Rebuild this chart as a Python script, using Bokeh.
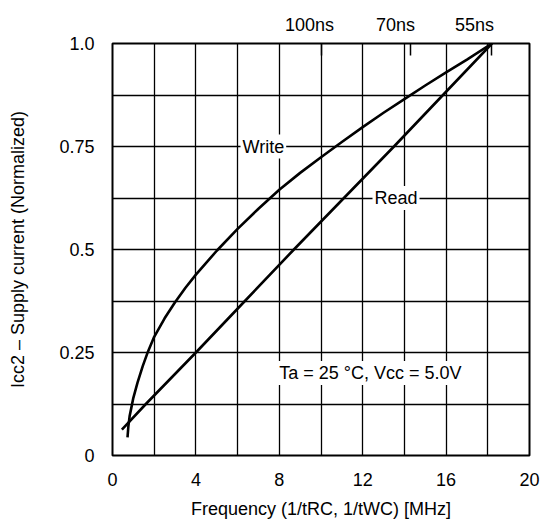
from bokeh.plotting import figure
from bokeh.models import Range1d, FixedTicker, LinearAxis, Label, CustomJSTickFormatter
from bokeh.embed import file_html
from bokeh.resources import INLINE

# ---- data ----
write_freq = [0.72, 0.76, 0.82, 0.9, 1.0, 1.2, 1.45, 1.7, 2.0, 2.5, 3.0, 3.5, 4.0, 5.0, 6.0,
              7.0, 8.0, 9.0, 10.0, 11.0, 12.0, 13.0, 14.0, 15.0, 16.0, 17.0, 18.2]
write_icc = [0.044, 0.07, 0.095, 0.115, 0.14, 0.177, 0.217, 0.252, 0.288, 0.333, 0.372, 0.407,
             0.439, 0.497, 0.55, 0.599, 0.645, 0.686, 0.724, 0.761, 0.797, 0.832, 0.865,
             0.898, 0.93, 0.961, 1.0]
read_freq = [0.45, 1.6, 4.0, 6.35, 8.7, 11.1, 13.5, 15.85, 18.2]
read_icc = [0.063, 0.125, 0.25, 0.375, 0.5, 0.625, 0.75, 0.875, 1.0]

x_ticks = [0, 4, 8, 12, 16, 20]
x_grid = [0, 2, 4, 6, 8, 10, 12, 14, 16, 18, 20]
y_ticks = [0, 0.25, 0.5, 0.75, 1.0]
y_tick_labels = ["0", "0.25", "0.5", "0.75", "1.0"]
y_grid = [0, 0.125, 0.25, 0.375, 0.5, 0.625, 0.75, 0.875, 1.0]
cycle_ns = [100, 70, 55]
cycle_labels = ["100ns", "70ns", "55ns"]
cycle_label_pos = [9.45, 13.57, 17.36]   # where the labels sit (slightly left of ticks)

FONT = "Liberation Sans"

p = figure(width=544, height=524, output_backend="svg", toolbar_location=None,
           x_range=Range1d(0, 20), y_range=Range1d(0, 1),
           min_border_left=112, min_border_right=15, min_border_top=43, min_border_bottom=69)
p.background_fill_color = "white"
p.border_fill_color = "white"
p.outline_line_color = "black"
p.outline_line_width = 2

# grids
p.xgrid.ticker = FixedTicker(ticks=x_grid)
p.ygrid.ticker = FixedTicker(ticks=y_grid)
for g in (p.xgrid, p.ygrid):
    g.grid_line_color = "black"
    g.grid_line_width = 1.3
    g.grid_line_alpha = 1.0

# bottom axis
xa = p.xaxis[0]
xa.ticker = FixedTicker(ticks=x_ticks)
xa.axis_label = "Frequency (1/tRC, 1/tWC) [MHz]"
# left axis
ya = p.yaxis[0]
ya.ticker = FixedTicker(ticks=y_ticks)
ya.major_label_overrides = {t: s for t, s in zip(y_ticks, y_tick_labels)}
ya.axis_label = "Icc2 – Supply current (Normalized)"
for ax in (xa, ya):
    ax.axis_line_color = None
    ax.major_tick_line_color = None
    ax.minor_tick_line_color = None
    ax.major_label_text_font = FONT
    ax.major_label_text_font_size = "18px"
    ax.major_label_text_color = "black"
    ax.axis_label_text_font = FONT
    ax.axis_label_text_font_size = "18px"
    ax.axis_label_text_font_style = "normal"
    ax.axis_label_text_color = "black"
xa.major_label_standoff = 11
xa.axis_label_standoff = 10
ya.major_label_standoff = 12
ya.axis_label_standoff = 28

# top axis: inward tick marks at the cycle-time frequencies
cycle_mhz = [1000.0 / t for t in cycle_ns]
top_ticks = LinearAxis(ticker=FixedTicker(ticks=cycle_mhz),
                       formatter=CustomJSTickFormatter(code="return ''"))
top_ticks.axis_line_color = None
top_ticks.major_tick_in = 12
top_ticks.major_tick_out = 0
top_ticks.major_tick_line_color = "black"
top_ticks.major_tick_line_width = 1.5
top_ticks.minor_tick_line_color = None
top_ticks.major_label_standoff = 0
p.add_layout(top_ticks, "above")

# top axis: cycle-time labels
top_labels = LinearAxis(ticker=FixedTicker(ticks=cycle_label_pos),
                        formatter=CustomJSTickFormatter(args=dict(labels=cycle_labels),
                                                        code="return labels[index]"))
top_labels.axis_line_color = None
top_labels.major_tick_line_color = None
top_labels.minor_tick_line_color = None
top_labels.major_tick_in = 0
top_labels.major_tick_out = 0
top_labels.major_label_standoff = 9
top_labels.major_label_text_font = FONT
top_labels.major_label_text_font_size = "18px"
top_labels.major_label_text_color = "black"
p.add_layout(top_labels, "above")

# curves
p.line(write_freq, write_icc, line_color="black", line_width=2.6)
p.line(read_freq, read_icc, line_color="black", line_width=2.6)

# annotations
def lab(x, y, s, baseline="alphabetic"):
    p.add_layout(Label(x=x, y=y, text=s, text_align="left", text_baseline=baseline,
                       text_font=FONT, text_font_size="18px", text_color="black",
                       background_fill_color="white", padding=2))

lab(6.14, 0.75, "Write")
lab(12.47, 0.625, "Read")
lab(7.9, 0.2, "Ta = 25 °C, Vcc = 5.0V", baseline="middle")

open("out.html", "w").write(file_html(p, INLINE))
